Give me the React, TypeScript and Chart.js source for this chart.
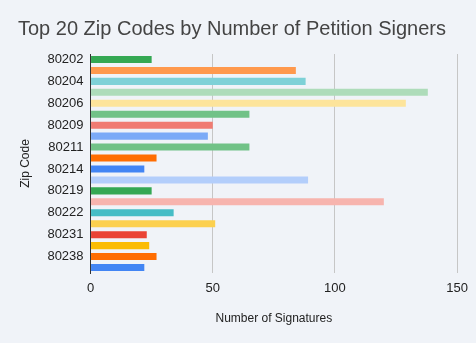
import React, { useEffect, useRef } from "react";
import { Chart, registerables } from "chart.js";

Chart.register(...registerables);

const zipCodes = [
  "80202", "80203", "80204", "80205", "80206", "80207", "80209", "80210", "80211", "80212",
  "80214", "80218", "80219", "80220", "80222", "80224", "80231", "80237", "80238", "80239",
];
const signatures = [25, 84, 88, 138, 129, 65, 50, 48, 65, 27, 22, 89, 25, 120, 34, 51, 23, 24, 27, 22];
const barColors = [
  "#34A853", "#FF994D", "#7ED1D7", "#AEDCBA", "#FDE49B", "#71C287", "#F07B72", "#7BAAF7", "#71C287", "#FF6D01",
  "#4285F4", "#B3CEFB", "#34A853", "#F7B4AE", "#46BDC6", "#FCD04F", "#EA4335", "#FBBC04", "#FF6D01", "#4285F4",
];
const xTicks = [0, 50, 100, 150];

const BG = "#f0f3f8";

export default function App() {
  const ref = useRef<HTMLCanvasElement | null>(null);
  useEffect(() => {
    document.body.style.margin = "0";
    document.body.style.background = BG;
    const bgPlugin = {
      id: "bg",
      beforeDraw(c: any) {
        const ctx = c.ctx;
        ctx.save();
        ctx.fillStyle = BG;
        ctx.fillRect(0, 0, c.width, c.height);
        ctx.restore();
      },
    };
    const chart = new Chart(ref.current!, {
      type: "bar",
      data: {
        labels: zipCodes,
        datasets: [
          {
            data: signatures,
            backgroundColor: barColors,
            borderWidth: 0,
            categoryPercentage: 1,
            barPercentage: 0.64,
          },
        ],
      },
      plugins: [bgPlugin],
      options: {
        indexAxis: "y",
        animation: false,
        responsive: false,
        maintainAspectRatio: false,
        layout: { padding: { left: 18, right: 17, top: 0, bottom: 17 } },
        plugins: {
          legend: { display: false },
          tooltip: { enabled: false },
          title: {
            display: true,
            text: "Top 20 Zip Codes by Number of Petition Signers",
            align: "start",
            color: "#444444",
            font: { family: "Arial, 'Liberation Sans', sans-serif", size: 20, weight: "normal" },
            padding: { top: 17, bottom: 13 },
          },
        },
        scales: {
          x: {
            min: 0,
            max: 150,
            afterBuildTicks: (axis: any) => {
              axis.ticks = xTicks.map((v) => ({ value: v }));
            },
            grid: { color: "#c6c6c6", lineWidth: 1, drawTicks: false },
            border: { display: false },
            ticks: {
              color: "#222222",
              font: { family: "Arial, 'Liberation Sans', sans-serif", size: 13 },
              padding: 8,
            },
            title: {
              display: true,
              text: "Number of Signatures",
              color: "#222222",
              font: { family: "Arial, 'Liberation Sans', sans-serif", size: 12 },
              padding: { top: 7, bottom: 0 },
            },
          },
          y: {
            grid: { display: false, drawTicks: false },
            border: { display: true, color: "#333333", width: 1 },
            ticks: {
              autoSkip: false,
              color: "#222222",
              font: { family: "Arial, 'Liberation Sans', sans-serif", size: 13 },
              padding: 7,
              callback: (_v: any, i: number) => (i % 2 === 0 ? zipCodes[i] : ""),
            },
            title: {
              display: true,
              text: "Zip Code",
              color: "#222222",
              font: { family: "Arial, 'Liberation Sans', sans-serif", size: 12 },
              padding: { top: 0, bottom: 8 },
            },
          },
        },
      },
    });
    return () => chart.destroy();
  }, []);
  return (
    <div style={{ width: 476, height: 343, background: BG }}>
      <canvas ref={ref} width={476} height={343} style={{ display: "block" }} />
    </div>
  );
}
